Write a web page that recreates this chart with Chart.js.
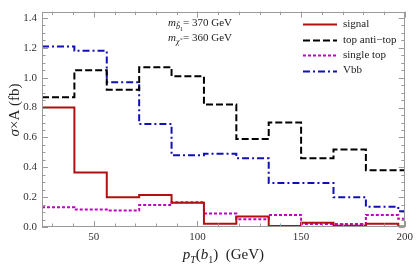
<!DOCTYPE html>
<html><head><meta charset="utf-8">
<script src="https://cdn.jsdelivr.net/npm/chart.js@4/dist/chart.umd.min.js"></script>
<style>html,body{margin:0;padding:0;background:#fff}#wrap{width:417px;height:269px;position:relative}</style>
</head><body><div id="wrap"><canvas id="c" width="417" height="269"></canvas></div>
<script>
// bin edges of pT(b1) in GeV
const binEdges = [25, 40.625, 56.25, 71.875, 87.5, 103.125, 118.75, 134.375, 150, 165.625, 181.25, 196.875, 200];
const signal    = [0.80, 0.365, 0.20, 0.215, 0.162, 0.021, 0.07, 0.006, 0.028, 0.008, 0.022, 0.003];
const topAntiTop= [0.87, 1.05, 0.92, 1.07, 1.01, 0.82, 0.59, 0.70, 0.46, 0.52, 0.38, 0.38];
const singleTop = [0.132, 0.117, 0.11, 0.147, 0.166, 0.09, 0.052, 0.081, 0.02, 0.02, 0.081, 0.055];
const vbb       = [1.21, 1.18, 0.97, 0.69, 0.48, 0.49, 0.46, 0.295, 0.295, 0.20, 0.135, 0.105];
const xTicks = [50, 100, 150, 200];
const yTicks = [0, 0.2, 0.4, 0.6, 0.8, 1.0, 1.2, 1.4];
const xMinorStep = 10, yMinorStep = 0.05;

const SERIF = '"Liberation Serif", "DejaVu Serif", serif';

function steps(vals){
  const pts = vals.map((v,i)=>({x: binEdges[i], y: v}));
  pts.push({x: binEdges[binEdges.length-1], y: vals[vals.length-1]});
  return pts;
}

const frameColor = '#9a9a9a';

const framePlugin = {
  id: 'frame',
  afterDatasetsDraw(chart){
    const {ctx, chartArea: a, scales: {x, y}} = chart;
    ctx.save();
    ctx.strokeStyle = frameColor;
    ctx.lineWidth = 1;
    ctx.setLineDash([]);
    ctx.strokeRect(Math.round(a.left)+0.5, Math.round(a.top)+0.5, Math.round(a.right-a.left)-1, Math.round(a.bottom-a.top)-1);
    ctx.beginPath();
    // x ticks
    for (let v = Math.ceil(x.min / xMinorStep) * xMinorStep; v <= x.max + 1e-9; v += xMinorStep) {
      const px = Math.round(x.getPixelForValue(v)) + 0.5;
      const len = (Math.abs(v % 50) < 1e-6) ? 6 : 3.5;
      ctx.moveTo(px, a.bottom); ctx.lineTo(px, a.bottom - len);
      ctx.moveTo(px, a.top); ctx.lineTo(px, a.top + len);
    }
    for (let k = 0; k * yMinorStep <= y.max + 1e-9; k++) {
      const v = k * yMinorStep;
      const py = Math.round(y.getPixelForValue(v)) + 0.5;
      const len = (k % 4 === 0) ? 6 : 3.5;
      ctx.moveTo(a.left, py); ctx.lineTo(a.left + len, py);
      ctx.moveTo(a.right, py); ctx.lineTo(a.right - len, py);
    }
    ctx.stroke();
    ctx.restore();
  },
  afterDraw(chart){
    const {ctx, chartArea: a} = chart;
    ctx.save();
    ctx.fillStyle = '#222';
    ctx.textBaseline = 'alphabetic';
    // draw a sequence of segments [text, font, dy]
    function seq(segs, x0, yb){
      let x = x0;
      for (const s of segs){
        ctx.font = s[1];
        ctx.fillText(s[0], x, yb + (s[2]||0));
        x += ctx.measureText(s[0]).width + (s[3]||0);
      }
      return x;
    }
    function width(segs){
      let w = 0;
      for (const s of segs){ ctx.font = s[1]; w += ctx.measureText(s[0]).width + (s[3]||0); }
      return w;
    }
    ctx.textAlign = 'left';
    // x axis title
    const xt = [['p','italic 15px '+SERIF],['T','italic 10px '+SERIF,4],['(','15px '+SERIF],['b','italic 15px '+SERIF],['1','10px '+SERIF,4],[')','15px '+SERIF],['  (GeV)','15px '+SERIF]];
    const cx = (a.left + a.right)/2;
    seq(xt, cx - width(xt)/2, 259);
    // y axis title
    const yt = [['σ','italic 15px '+SERIF],['×A (fb)','15px '+SERIF]];
    ctx.translate(19, 110); ctx.rotate(-Math.PI/2);
    seq(yt, -width(yt)/2, 0);
    ctx.setTransform(1,0,0,1,0,0);
    // annotation
    const eqX = 181;
    ctx.font = 'italic 11px '+SERIF;
    ctx.fillText('m', 168, 26);
    ctx.font = 'italic 8px '+SERIF;
    ctx.fillText('b\u0303', 176, 29);
    ctx.font = '6px '+SERIF;
    ctx.fillText('1', 180, 31);
    ctx.font = '11px '+SERIF;
    ctx.fillText('= 370 GeV', eqX+2, 26);
    ctx.font = 'italic 11px '+SERIF;
    ctx.fillText('m', 168, 41);
    ctx.font = 'italic 8px '+SERIF;
    ctx.fillText('\u03c7\u0303', 176, 44);
    ctx.font = '11px '+SERIF;
    ctx.fillText('= 360 GeV', eqX+2, 41);
    // legend
    const rows = [24, 40, 55, 70.5];
    chart.data.datasets.forEach((ds, i) => {
      const yy = Math.round(rows[i]) + 0.5;
      ctx.strokeStyle = ds.borderColor;
      ctx.lineWidth = ds.borderWidth;
      ctx.setLineDash(ds.borderDash || []);
      ctx.beginPath(); ctx.moveTo(303, yy); ctx.lineTo(337, yy); ctx.stroke();
      ctx.setLineDash([]);
      ctx.font = '11px '+SERIF;
      ctx.fillStyle = '#222';
      ctx.textBaseline = 'middle';
      ctx.fillText(ds.label, 343, rows[i]);
    });
    ctx.restore();
  }
};

const common = {stepped: 'before', fill: false, pointRadius: 0, borderWidth: 2, tension: 0};
new Chart(document.getElementById('c'), {
  type: 'line',
  data: {
    datasets: [
      Object.assign({label: 'signal', data: steps(signal), borderColor: '#b01010', borderDash: []}, common),
      Object.assign({label: 'top anti\u2212top', data: steps(topAntiTop), borderColor: '#000000', borderDash: [7, 3]}, common),
      Object.assign({label: 'single top', data: steps(singleTop), borderColor: '#c000c0', borderDash: [3, 2]}, common),
      Object.assign({label: 'Vbb', data: steps(vbb), borderColor: '#1010b4', borderDash: [7, 3, 2, 3]}, common)
    ]
  },
  options: {
    responsive: false,
    animation: false,
    devicePixelRatio: 1,
    layout: {padding: {top: 1, right: 8, left: 0, bottom: 0}},
    plugins: {legend: {display: false}, tooltip: {enabled: false}},
    scales: {
      x: {
        type: 'linear', min: 25, max: 200,
        afterBuildTicks: s => { s.ticks = xTicks.map(v => ({value: v})); },
        afterFit: s => { s.height = 42; },
        grid: {display: false, drawTicks: false},
        border: {display: false},
        ticks: {font: {family: SERIF, size: 11}, color: '#333', padding: 4, maxRotation: 0, autoSkip: false}
      },
      y: {
        type: 'linear', min: 0, max: 1.443,
        afterBuildTicks: s => { s.ticks = yTicks.map(v => ({value: v})); },
        afterFit: s => { s.width = 42; },
        grid: {display: false, drawTicks: false},
        border: {display: false},
        ticks: {font: {family: SERIF, size: 11}, color: '#333', padding: 5, callback: v => Number(v).toFixed(1)}
      }
    }
  },
  plugins: [framePlugin]
});
</script></body></html>
